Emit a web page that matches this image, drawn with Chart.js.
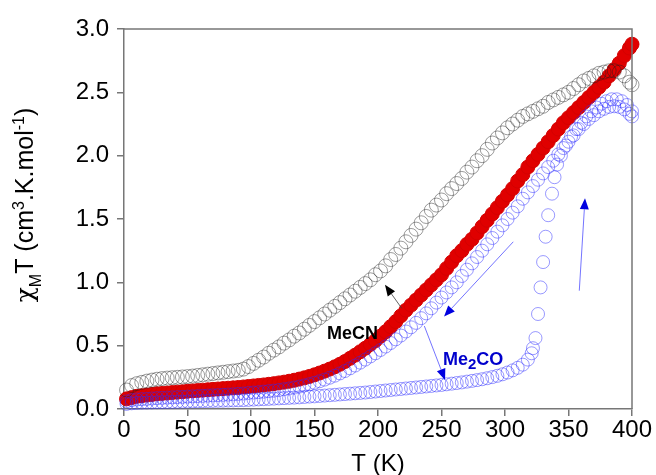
<!DOCTYPE html>
<html><head><meta charset="utf-8">
<script src="https://cdn.jsdelivr.net/npm/chart.js@4/dist/chart.umd.min.js"></script>
<style>html,body{margin:0;padding:0;background:#fff}#wrap{width:656px;height:475px;position:relative}</style>
</head><body><div id="wrap"><canvas id="c" width="656" height="475"></canvas></div>
<script>
// ---- data ----
const xTickValues = [0, 50, 100, 150, 200, 250, 300, 350, 400];
const xTickLabels = ['0', '50', '100', '150', '200', '250', '300', '350', '400'];
const yTickValues = [0, 0.5, 1, 1.5, 2, 2.5, 3];
const yTickLabels = ['0.0', '0.5', '1.0', '1.5', '2.0', '2.5', '3.0'];

// temperatures (K) for the black, red and blue-cooling runs
const T_main = [2,6,10,14,18,22,26,30,34,38,42,46,50,54,58,62,66,70,74,78,82,86,90,94,98,102,106,110,114,118,
  122,126,130,134,138,142,146,150,154,158,162,166,170,174,178,182,186,190,194,198,202,206,210,214,218,222,226,230,234,238,
  242,246,250,254,258,262,266,270,274,278,282,286,290,294,298,302,306,310,314,318,322,326,330,334,338,342,346,350,354,358,
  362,366,370,374,378,382,386,390,394,398,400];

// MeCN (black open circles)
const chi_black = [0.15,0.185,0.2,0.21,0.22,0.228,0.235,0.24,0.244,0.247,
  0.25,0.253,0.256,0.26,0.265,0.27,0.275,0.28,0.285,0.29,
  0.295,0.3,0.305,0.315,0.335,0.36,0.385,0.41,0.44,0.465,
  0.49,0.52,0.545,0.575,0.6,0.63,0.66,0.69,0.72,0.75,
  0.78,0.81,0.84,0.87,0.9,0.93,0.96,0.99,1.02,1.06,
  1.09,1.13,1.18,1.22,1.27,1.32,1.37,1.42,1.47,1.52,
  1.57,1.61,1.65,1.7,1.74,1.78,1.82,1.87,1.91,1.96,
  2.0,2.05,2.1,2.14,2.18,2.22,2.25,2.28,2.31,2.33,
  2.35,2.37,2.39,2.42,2.44,2.46,2.48,2.5,2.53,2.56,
  2.59,2.61,2.63,2.65,2.66,2.67,2.67,2.66,2.63,2.58,
  2.56];

// red filled circles
const chi_red = [0.08,0.09,0.1,0.105,0.11,0.115,0.12,0.123,0.126,0.13,
  0.133,0.136,0.14,0.143,0.146,0.149,0.152,0.155,0.158,0.161,
  0.164,0.167,0.17,0.174,0.178,0.182,0.186,0.19,0.195,0.2,
  0.206,0.212,0.219,0.227,0.236,0.246,0.257,0.27,0.284,0.299,
  0.315,0.333,0.353,0.375,0.4,0.425,0.452,0.48,0.51,0.54,
  0.575,0.61,0.65,0.69,0.735,0.78,0.82,0.86,0.9,0.94,
  0.98,1.02,1.06,1.11,1.16,1.21,1.25,1.3,1.34,1.39,
  1.44,1.49,1.54,1.59,1.64,1.69,1.74,1.8,1.85,1.91,
  1.96,2.01,2.06,2.11,2.16,2.21,2.26,2.3,2.34,2.38,
  2.42,2.46,2.5,2.54,2.58,2.63,2.68,2.73,2.79,2.85,
  2.88];

// Me2CO cooling branch (blue open circles)
const chi_blueCool = [0.06,0.07,0.075,0.078,0.08,0.083,0.086,0.088,0.09,0.092,
  0.094,0.096,0.098,0.1,0.102,0.104,0.106,0.108,0.11,0.112,
  0.114,0.116,0.119,0.122,0.127,0.13,0.133,0.137,0.141,0.145,
  0.15,0.156,0.162,0.169,0.177,0.186,0.196,0.207,0.219,0.232,
  0.247,0.263,0.281,0.3,0.321,0.343,0.366,0.39,0.415,0.44,
  0.466,0.493,0.521,0.55,0.58,0.612,0.645,0.68,0.717,0.755,
  0.795,0.84,0.88,0.92,0.96,1.0,1.05,1.1,1.15,1.2,
  1.25,1.3,1.35,1.4,1.45,1.5,1.55,1.6,1.66,1.71,
  1.76,1.81,1.86,1.91,1.96,2.01,2.06,2.11,2.16,2.21,
  2.25,2.29,2.32,2.35,2.37,2.385,2.39,2.385,2.365,2.33,
  2.31];

// Me2CO warming branch (blue open circles)
const T_blueWarm = [2,6,10,14,18,22,26,30,34,38,42,46,50,54,58,62,66,70,74,78,82,86,90,94,98,102,106,110,114,118,
  122,126,130,134,138,142,146,150,154,158,162,166,170,174,178,182,186,190,194,198,202,206,210,214,218,222,226,230,234,238,
  242,246,250,254,258,262,266,270,274,278,282,286,290,294,298,302,306,310,314,318,
  321,322,324,326,328,330,332,334,337,339,341,
  344,348,352,356,360,364,368,372,376,380,384,388,392,396,400];
const chi_blueWarm = [0.04,0.045,0.048,0.05,0.051,0.052,0.053,0.054,0.055,0.056,
  0.057,0.058,0.059,0.06,0.061,0.062,0.063,0.064,0.065,0.066,
  0.067,0.068,0.069,0.07,0.072,0.074,0.076,0.078,0.08,0.082,
  0.084,0.086,0.088,0.09,0.092,0.095,0.098,0.1,0.103,0.106,
  0.109,0.112,0.115,0.118,0.121,0.124,0.127,0.13,0.134,0.138,
  0.142,0.146,0.15,0.154,0.158,0.162,0.166,0.17,0.174,0.178,
  0.182,0.186,0.19,0.195,0.2,0.205,0.21,0.216,0.222,0.228,
  0.235,0.243,0.252,0.262,0.274,0.288,0.305,0.325,0.35,0.39,
  0.44,0.48,0.56,0.75,0.96,1.16,1.36,1.53,1.7,1.83,1.93,
  2.0,2.08,2.15,2.21,2.26,2.31,2.35,2.38,2.41,2.43,2.445,2.445,2.43,2.4,2.35];

// annotation anchors in data units (T, chiT)
const arrowTails = [[218.7, 0.795], [306.5, 1.32], [236.5, 0.655], [358.5, 0.934]];
const arrowHeads = [[205.5, 0.98], [252.0, 0.73], [252.8, 0.229], [363.0, 1.663]];
const labelMeCN = [159.8, 0.553];
const labelMe2CO = [251.2, 0.347];

// ---- build ----
const pts = (xs, ys) => xs.map((x, i) => ({x: x, y: ys[i]}));
const FONT = "'Liberation Sans', Arial, Helvetica, sans-serif";

const decor = {
  id: 'decor',
  afterDatasetsDraw(chart) {
    const ctx = chart.ctx, xs = chart.scales.x, ys = chart.scales.y, ca = chart.chartArea;
    ctx.save();
    // frame top & right
    ctx.strokeStyle = '#777'; ctx.lineWidth = 1.5;
    ctx.beginPath();
    ctx.moveTo(ca.left, ca.top); ctx.lineTo(ca.right, ca.top); ctx.lineTo(ca.right, ca.bottom);
    ctx.stroke();

    const styles = [
      {line: 'rgba(60,60,60,0.8)', head: '#000'},
      {line: 'rgba(70,70,255,0.75)', head: '#0000e0'},
      {line: 'rgba(70,70,255,0.75)', head: '#0000e0'},
      {line: 'rgba(70,70,255,0.75)', head: '#0000e0'}
    ];
    arrowTails.forEach((t, i) => {
      const x1 = xs.getPixelForValue(t[0]), y1 = ys.getPixelForValue(t[1]);
      const x2 = xs.getPixelForValue(arrowHeads[i][0]), y2 = ys.getPixelForValue(arrowHeads[i][1]);
      const a = Math.atan2(y2 - y1, x2 - x1), L = 11, W = 4.5;
      const bx = x2 - L * Math.cos(a), by = y2 - L * Math.sin(a);
      ctx.strokeStyle = styles[i].line; ctx.lineWidth = 1;
      ctx.beginPath(); ctx.moveTo(x1, y1); ctx.lineTo(bx, by); ctx.stroke();
      ctx.fillStyle = styles[i].head;
      ctx.beginPath();
      ctx.moveTo(x2, y2);
      ctx.lineTo(bx + W * Math.sin(a), by - W * Math.cos(a));
      ctx.lineTo(bx - W * Math.sin(a), by + W * Math.cos(a));
      ctx.closePath(); ctx.fill();
    });

    // labels
    ctx.textBaseline = 'alphabetic'; ctx.textAlign = 'left';
    ctx.fillStyle = '#000';
    ctx.font = 'bold 18px ' + FONT;
    ctx.fillText('MeCN', xs.getPixelForValue(labelMeCN[0]), ys.getPixelForValue(labelMeCN[1]));
    let lx = xs.getPixelForValue(labelMe2CO[0]), ly = ys.getPixelForValue(labelMe2CO[1]);
    ctx.fillStyle = '#0000cc';
    ctx.font = 'bold 18px ' + FONT;
    ctx.fillText('Me', lx, ly); lx += ctx.measureText('Me').width;
    ctx.font = 'bold 15px ' + FONT;
    ctx.fillText('2', lx, ly + 4); lx += ctx.measureText('2').width;
    ctx.font = 'bold 18px ' + FONT;
    ctx.fillText('CO', lx, ly);

    // axis titles
    ctx.fillStyle = '#000';
    ctx.font = '24px ' + FONT; ctx.textAlign = 'center';
    ctx.fillText('T (K)', (ca.left + ca.right) / 2, 471);

    const big = '25px ' + FONT, small = '16px ' + FONT;
    const parts = [['\u03C7', "25px 'DejaVu Serif', serif", 0], ['M', small, 8], ['T (cm', big, 0], ['3', small, -9],
                   ['.K.mol', big, 0], ['-1', small, -9], [')', big, 0]];
    let total = 0;
    parts.forEach(p => { ctx.font = p[1]; p.push(ctx.measureText(p[0]).width); total += p[3]; });
    ctx.translate(33, 205); ctx.rotate(-Math.PI / 2);
    ctx.textAlign = 'left';
    let px = -total / 2;
    parts.forEach(p => { ctx.font = p[1]; ctx.fillText(p[0], px, p[2]); px += p[3]; });
    ctx.restore();
  }
};

const axisCommon = {
  grid: {drawOnChartArea: false, drawTicks: true, tickLength: 7, color: '#777', lineWidth: 1.5},
  border: {display: true, color: '#777', width: 1.5}
};

new Chart(document.getElementById('c'), {
  type: 'scatter',
  data: {
    datasets: [
      {label: 'Me2CO warming', data: pts(T_blueWarm, chi_blueWarm), pointRadius: 6.5, pointBorderWidth: 0.8,
       pointBackgroundColor: 'rgba(0,0,0,0)', pointBorderColor: 'rgba(40,40,255,0.6)', clip: false},
      {label: 'Me2CO cooling', data: pts(T_main, chi_blueCool), pointRadius: 6.5, pointBorderWidth: 0.8,
       pointBackgroundColor: 'rgba(0,0,0,0)', pointBorderColor: 'rgba(40,40,255,0.6)', clip: false},
      {label: 'MeCN', data: pts(T_main, chi_black), pointRadius: 7, pointBorderWidth: 0.8,
       pointBackgroundColor: 'rgba(0,0,0,0)', pointBorderColor: 'rgba(30,30,30,0.55)', clip: false},
      {label: 'red', data: pts(T_main, chi_red), pointRadius: 7, pointBorderWidth: 1,
       pointBackgroundColor: '#e00000', pointBorderColor: '#d40000', clip: false}
    ]
  },
  options: {
    responsive: false, animation: false, devicePixelRatio: 1,
    layout: {padding: {top: 29, right: 24, left: 0, bottom: 0}},
    plugins: {legend: {display: false}, tooltip: {enabled: false}},
    elements: {point: {hoverRadius: 7}},
    scales: {
      x: Object.assign({}, axisCommon, {
        type: 'linear', min: 0, max: 400,
        afterBuildTicks: s => { s.ticks = xTickValues.map(v => ({value: v})); },
        afterFit: s => { s.height = 66; },
        ticks: {padding: 0, color: '#000', font: {family: FONT, size: 24}, maxRotation: 0,
                callback: (v, i) => xTickLabels[i]}
      }),
      y: Object.assign({}, axisCommon, {
        type: 'linear', min: 0, max: 3,
        afterBuildTicks: s => { s.ticks = yTickValues.map(v => ({value: v})); },
        afterFit: s => { s.width = 124; },
        ticks: {padding: 8, color: '#000', font: {family: FONT, size: 24},
                callback: (v, i) => yTickLabels[i]}
      })
    }
  },
  plugins: [decor]
});
</script></body></html>
